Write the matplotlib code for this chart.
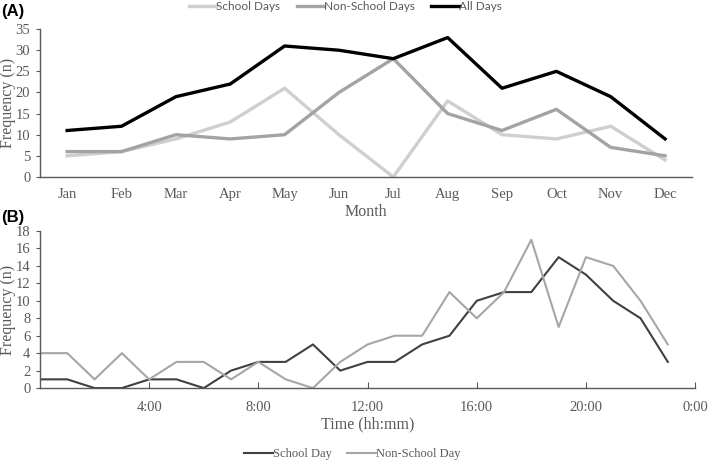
import numpy as np
import matplotlib.pyplot as plt

months = ["Jan", "Feb", "Mar", "Apr", "May", "Jun", "Jul", "Aug", "Sep", "Oct", "Nov", "Dec"]
school_days = [5, 6, 9, 13, 21, 10, 0, 18, 10, 9, 12, 4]
non_school_days = [6, 6, 10, 9, 10, 20, 28, 15, 11, 16, 7, 5]
all_days = [11, 12, 19, 22, 31, 30, 28, 33, 21, 25, 19, 9]

hours = list(range(24))
school_day_hourly = [1, 1, 0, 0, 1, 1, 0, 2, 3, 3, 5, 2, 3, 3, 5, 6, 10, 11, 11, 15, 13, 10, 8, 3]
non_school_day_hourly = [4, 4, 1, 4, 1, 3, 3, 1, 3, 1, 0, 3, 5, 6, 6, 11, 8, 11, 17, 7, 15, 14, 10, 5]
hour_ticks = [4, 8, 12, 16, 20, 24]
hour_labels = ["4:00", "8:00", "12:00", "16:00", "20:00", "0:00"]

serif = ["Liberation Serif", "DejaVu Serif"]
tick_col = "#595959"
plt.rcParams['font.family'] = serif

fig = plt.figure(figsize=(7.09, 4.62), dpi=100)

# panel A: monthly
axA = fig.add_axes([0.0564, 0.617, 0.920, 0.320])
x = np.arange(len(months))
axA.plot(x, school_days, color="#cfcfcf", lw=2.4, label="School Days")
axA.plot(x, non_school_days, color="#a3a3a3", lw=2.4, label="Non-School Days")
axA.plot(x, all_days, color="black", lw=2.4, label="All Days")
axA.set_xlim(-0.5, 11.5)
axA.set_ylim(0, 35)
axA.set_yticks(range(0, 36, 5))
axA.set_xticks(x)
axA.set_xticklabels(months)
axA.tick_params(axis="x", length=0, pad=8, labelsize=10.5, colors=tick_col)
axA.tick_params(axis="y", length=3, width=0.8, labelsize=10.5, colors=tick_col, pad=4)
axA.set_xlabel("Month", fontsize=11.5, color=tick_col, labelpad=2)
axA.set_ylabel("Frequency (n)", fontsize=11.5, color=tick_col)
axA.yaxis.set_label_coords(-0.037, 0.5)
for s in ["top", "right"]:
    axA.spines[s].set_visible(False)
for s in ["left", "bottom"]:
    axA.spines[s].set_color(tick_col)
    axA.spines[s].set_linewidth(1.0)
hA, lA = axA.get_legend_handles_labels()
legA = fig.legend(hA, lA, loc="center", bbox_to_anchor=(0.487, 0.985), ncol=3, frameon=False,
                  handlelength=2.3, handletextpad=0.0, columnspacing=1.4, borderpad=0,
                  prop={"family": ["Lato", "DejaVu Sans"], "size": 8.5})
for t in legA.get_texts():
    t.set_color(tick_col)

# panel B: hourly
axB = fig.add_axes([0.0564, 0.160, 0.924, 0.340])
axB.plot(hours, school_day_hourly, color="#404040", lw=1.5, label="School Day")
axB.plot(hours, non_school_day_hourly, color="#a6a6a6", lw=1.5, label="Non-School Day")
axB.set_xlim(0, 24)
axB.set_ylim(0, 18)
axB.set_yticks(range(0, 19, 2))
axB.set_xticks(hour_ticks)
axB.set_xticklabels(hour_labels)
axB.tick_params(axis="x", direction="in", length=4, width=0.8, pad=9, labelsize=10.5, colors=tick_col)
axB.tick_params(axis="y", length=3, width=0.8, labelsize=10.5, colors=tick_col, pad=4)
axB.set_xlabel("Time (hh:mm)", fontsize=11.5, color=tick_col, labelpad=2)
axB.set_ylabel("Frequency (n)", fontsize=11.5, color=tick_col)
axB.yaxis.set_label_coords(-0.037, 0.5)
for s in ["top", "right"]:
    axB.spines[s].set_visible(False)
for s in ["left", "bottom"]:
    axB.spines[s].set_color(tick_col)
    axB.spines[s].set_linewidth(1.0)
hB, lB = axB.get_legend_handles_labels()
legB = fig.legend(hB, lB, loc="center", bbox_to_anchor=(0.497, 0.017), ncol=2, frameon=False,
                  fontsize=9, handlelength=2.3, handletextpad=0.0, columnspacing=1.2, borderpad=0)
for t in legB.get_texts():
    t.set_color(tick_col)

fig.text(0.002, 0.992, "(A)", fontsize=12, fontweight="bold", family=["Liberation Sans", "DejaVu Sans"], va="top")
fig.text(0.002, 0.545, "(B)", fontsize=12, fontweight="bold", family=["Liberation Sans", "DejaVu Sans"], va="top")

fig.savefig("out.png", dpi=100)
